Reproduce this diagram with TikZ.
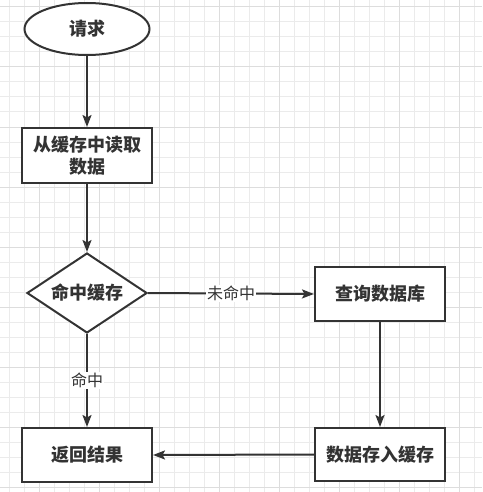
\documentclass[tikz,border=0pt]{standalone}
\usepackage{fontspec}
\setmainfont{Noto Sans CJK SC}
\usetikzlibrary{shapes.geometric,arrows.meta}
\definecolor{ln}{HTML}{333333}
\definecolor{gminor}{HTML}{EBEBEB}
\definecolor{gmajor}{HTML}{DDDDDD}
\tikzset{
  boxstyle/.style={draw=ln, line width=2pt, fill=white, text=ln, inner sep=0pt,
    minimum width=130pt, minimum height=54pt, align=center,
    font=\fontsize{18}{22}\selectfont\bfseries},
  ovalstyle/.style={boxstyle, ellipse, minimum width=125pt, minimum height=52pt},
  decstyle/.style={boxstyle, diamond, minimum width=120pt, minimum height=80pt, aspect=1.5},
  flow/.style={draw=ln, line width=2pt, -{Stealth[length=12pt,width=9pt,inset=2.5pt]}},
  lbl/.style={fill=white, text=ln, inner sep=1pt, font=\fontsize{16}{18}\selectfont}
}
\begin{document}
\begin{tikzpicture}[x=1pt,y=-1pt]
\useasboundingbox (0,0) rectangle (482,492);
\fill[white] (0,0) rectangle (482,492);
\foreach \x in {9,24,...,482} \draw[gminor, line width=1pt] (\x,0) -- (\x,492);
\foreach \y in {7,22,...,492} \draw[gminor, line width=1pt] (0,\y) -- (482,\y);
\foreach \x in {39,99,...,482} \draw[gmajor, line width=1pt] (\x,0) -- (\x,492);
\foreach \y in {7,67,...,492} \draw[gmajor, line width=1pt] (0,\y) -- (482,\y);

\node[ovalstyle] (req) at (87,29) {请求};
\node[boxstyle, minimum height=55pt] (read) at (87,155.5) {从缓存中读取\\数据};
\node[decstyle] (hit) at (87,293) {命中缓存};
\node[boxstyle] (db) at (380,294) {查询数据库};
\node[boxstyle, minimum height=53pt] (store) at (380,454.5) {数据存入缓存};
\node[boxstyle] (ret) at (87,455) {返回结果};

\draw[flow] (req) -- (read);
\draw[flow] (read) -- (hit);
\draw[flow] (hit.east) -- node[lbl] (lmiss) {未命中} (db.west);
\draw[flow] (hit.south) -- node[lbl] (lhit) {命中} (ret.north);
\draw[flow] (db.south) -- (store.north);
\draw[flow] (store.west) -- (ret.east);
\end{tikzpicture}
\end{document}
